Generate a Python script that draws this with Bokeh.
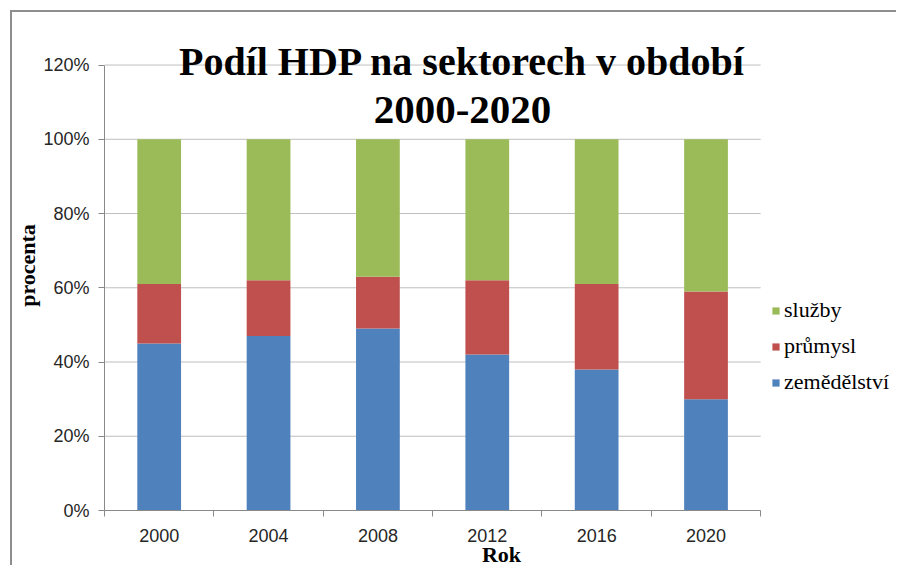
import math
from bokeh.plotting import figure
from bokeh.models import (Range1d, LinearAxis, FixedTicker,
                          NumeralTickFormatter, Legend, LegendItem, Label, ColumnDataSource)
from bokeh.embed import file_html
from bokeh.resources import INLINE

# ---- data ----
years = ["2000", "2004", "2008", "2012", "2016", "2020"]
zemedelstvi = [0.45, 0.47, 0.49, 0.42, 0.38, 0.30]
prumysl = [0.16, 0.15, 0.14, 0.20, 0.23, 0.29]
sluzby = [0.39, 0.38, 0.37, 0.38, 0.39, 0.41]
series_keys = ["zemedelstvi", "prumysl", "sluzby"]
series_labels = ["zemědělství", "průmysl", "služby"]
colors = ["#4F81BD", "#C0504D", "#9BBB59"]
y_ticks = [0, 0.2, 0.4, 0.6, 0.8, 1.0, 1.2]
title_lines = ["Podíl HDP na sektorech v období", "2000-2020"]
x_title = "Rok"
y_title = "procenta"

# category slots: centre of slot i is i + 0.5, boundaries at integers
n = len(years)
centers = [i + 0.5 for i in range(n)]
bounds = list(range(n + 1))

source = ColumnDataSource(dict(x=centers, years=years, zemedelstvi=zemedelstvi,
                               prumysl=prumysl, sluzby=sluzby))

W, H = 886, 557
x_right = 7.26   # room right of the last slot for the legend
y_top = 1.32     # headroom above the 120% line for the title
p = figure(x_range=Range1d(0, x_right), y_range=Range1d(0, y_top),
           width=W, height=H, output_backend="svg", toolbar_location=None,
           x_axis_location=None, y_axis_location=None,
           min_border_left=90, min_border_right=0, min_border_top=8, min_border_bottom=57)
p.outline_line_color = None
p.xgrid.grid_line_color = None
p.ygrid.grid_line_color = None
p.background_fill_color = "white"
p.border_fill_color = "white"
p.styles = {"margin": "10px 0 -12px 10px", "border-top": "2px solid #8E8E8E",
            "border-left": "2px solid #8E8E8E"}

# horizontal gridlines over the category slots only
p.segment(x0=bounds[0], x1=bounds[-1], y0=y_ticks, y1=y_ticks, line_color="#BFBFBF",
          line_width=1, level="underlay")

renderers = p.vbar_stack(series_keys, x="x", width=0.4, fill_color=colors,
                         line_color=None, source=source)

serif = "Liberation Serif"

# y axis
yaxis = LinearAxis(ticker=FixedTicker(ticks=y_ticks), formatter=NumeralTickFormatter(format="0%"),
                   bounds=(y_ticks[0], y_ticks[-1]),
                   axis_line_color="#898989", major_tick_line_color="#898989",
                   major_tick_out=6, major_tick_in=0, minor_tick_line_color=None,
                   major_label_standoff=9, major_label_text_font="Liberation Sans",
                   major_label_text_font_size="18px", major_label_text_color="#262626",
                   axis_label=y_title, axis_label_text_font=serif, axis_label_text_font_style="bold",
                   axis_label_text_font_size="22px", axis_label_text_color="black",
                   axis_label_standoff=0)
p.add_layout(yaxis, "left")

# x axis: labels at slot centres, tick marks at slot boundaries
xaxis = LinearAxis(ticker=FixedTicker(ticks=centers, minor_ticks=bounds),
                   bounds=(bounds[0], bounds[-1]),
                   major_label_overrides={c: y for c, y in zip(centers, years)},
                   major_tick_line_color=None, major_tick_out=0, major_tick_in=0,
                   minor_tick_line_color="#898989", minor_tick_out=6, minor_tick_in=0,
                   axis_line_color="#898989", major_label_standoff=12,
                   major_label_text_font="Liberation Sans",
                   major_label_text_font_size="18px", major_label_text_color="#262626",
                   axis_label=x_title, axis_label_text_font=serif, axis_label_text_font_style="bold",
                   axis_label_text_font_size="22px", axis_label_text_color="black",
                   axis_label_standoff=-3)
p.add_layout(xaxis, "below")

# title (inside the frame headroom)
p.add_layout(Label(x=358, y=449, x_units="screen", y_units="screen", text=title_lines[0],
                   text_align="center", text_baseline="alphabetic", text_font=serif,
                   text_font_style="bold", text_font_size="40px", text_color="black"))
p.add_layout(Label(x=358, y=401, x_units="screen", y_units="screen", text=title_lines[1],
                   text_align="center", text_baseline="alphabetic", text_font=serif,
                   text_font_style="bold", text_font_size="41px", text_color="black"))

# legend (reverse order: services on top)
items = [LegendItem(label=series_labels[i], renderers=[renderers[i]]) for i in reversed(range(3))]
legend = Legend(items=items, location=(667, 115), padding=0, margin=0,
                border_line_color=None, background_fill_alpha=0,
                glyph_width=9, glyph_height=9, label_standoff=4,
                label_height=24, spacing=10,
                label_text_font=serif, label_text_font_size="22px", label_text_color="black")
p.add_layout(legend, "center")

open("out.html", "w").write(file_html(p, INLINE))
